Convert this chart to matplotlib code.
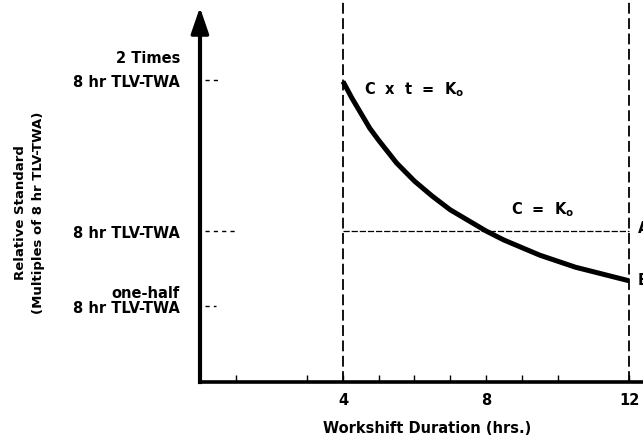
import matplotlib
matplotlib.use("Agg")
import matplotlib.pyplot as plt

# values
shift_hours = [4, 4.25, 4.5, 4.75, 5, 5.5, 6, 6.5, 7, 7.5, 8, 8.5, 9,
               9.5, 10, 10.5, 11, 11.5, 12]
rel_standard = [1.99, 1.88, 1.78, 1.68, 1.6, 1.45, 1.33, 1.23, 1.14, 1.07,
                1.0, 0.94, 0.89, 0.84, 0.80, 0.76, 0.73, 0.70, 0.67]
x_ticks = [1, 3, 4, 5, 6, 7, 8, 9, 10, 12]
x_labels = ["", "", "4", "", "", "", "8", "", "", "12"]
y_ticks = [0.5, 1, 2]
y_labels = ["8 hr TLV-TWA", "8 hr TLV-TWA", "8 hr TLV-TWA"]
y_notes = {2: "2 Times", 0.5: "one-half"}
tick_dash_len = {2: 0.5, 1: 1.05, 0.5: 0.45}

FS = 10.5
plt.rcParams["font.family"] = ["DejaVu Sans"]
plt.rcParams["font.weight"] = "bold"
plt.rcParams["mathtext.fontset"] = "custom"
plt.rcParams["mathtext.rm"] = "DejaVu Sans:bold"
plt.rcParams["mathtext.it"] = "DejaVu Sans:bold"

fig = plt.figure(figsize=(6.43, 4.39), dpi=100)
ax = fig.add_axes([0, 0, 1, 1])
ax.set_xlim(-5.59, 12.39)
ax.set_ylim(-0.371, 2.536)

# axes lines
for side in ["top", "right"]:
    ax.spines[side].set_visible(False)
ax.spines["left"].set_position(("data", 0))
ax.spines["bottom"].set_position(("data", 0))
ax.spines["left"].set_bounds(0, 2.35)
ax.spines["bottom"].set_bounds(0, 12.39)
ax.spines["left"].set_linewidth(3)
ax.spines["bottom"].set_linewidth(2.6)
ax.annotate("", xy=(0, 2.48), xytext=(0, 2.3),
            arrowprops=dict(arrowstyle="-|>,head_length=1.6,head_width=0.55",
                            color="black", lw=2.5, shrinkA=0, shrinkB=0))

ax.set_xticks(x_ticks)
ax.set_xticklabels(x_labels, fontsize=FS, fontweight="bold")
ax.tick_params(axis="x", direction="in", length=5, width=1, pad=7)
ax.set_yticks(y_ticks)
ax.set_yticklabels(y_labels, fontsize=FS, fontweight="bold")
ax.tick_params(axis="y", length=0, pad=14.5)

for yv, note in y_notes.items():
    ax.text(-0.56, yv + (0.15 if yv == 2 else 0.095), note, ha="right",
            va="center", fontsize=FS, fontweight="bold")

# short dashes right of the y axis
for yv, ln in tick_dash_len.items():
    ax.plot([0.15, ln], [yv, yv], color="black", lw=1, ls=(0, (3, 3)))

# reference lines
ax.plot([4, 4], [0, 2.6], color="black", lw=1.3, ls=(0, (6, 2.5)))
ax.plot([12, 12], [0, 2.6], color="black", lw=1.3, ls=(0, (6, 2.5)))
ax.plot([4, 12], [1, 1], color="black", lw=0.9, ls=(0, (5, 1.5)))

# C x t = K curve
ax.plot(shift_hours, rel_standard, color="black", lw=3.6,
        solid_capstyle="butt", solid_joinstyle="round")

ax.text(4.6, 1.94, r"C  x  t  =  K$_{\rm o}$", fontsize=FS,
        fontweight="bold", va="center")
ax.text(8.7, 1.15, r"C  =  K$_{\rm o}$", fontsize=FS,
        fontweight="bold", va="center")
# clipped letters at right edge
ax.text(12.25, 1.02, "A", fontsize=FS, fontweight="bold", va="center")
ax.text(12.25, 0.68, "B", fontsize=FS, fontweight="bold", va="center")

ax.text(-4.76, 1.13, "Relative Standard\n(Multiples of 8 hr TLV-TWA)",
        rotation=90, ha="center", va="center", multialignment="center",
        fontsize=9.5, fontweight="bold", linespacing=1.45)
ax.text(6.35, -0.30, "Workshift Duration (hrs.)", ha="center",
        va="center", fontsize=FS, fontweight="bold")

fig.savefig("out.png", dpi=100)
